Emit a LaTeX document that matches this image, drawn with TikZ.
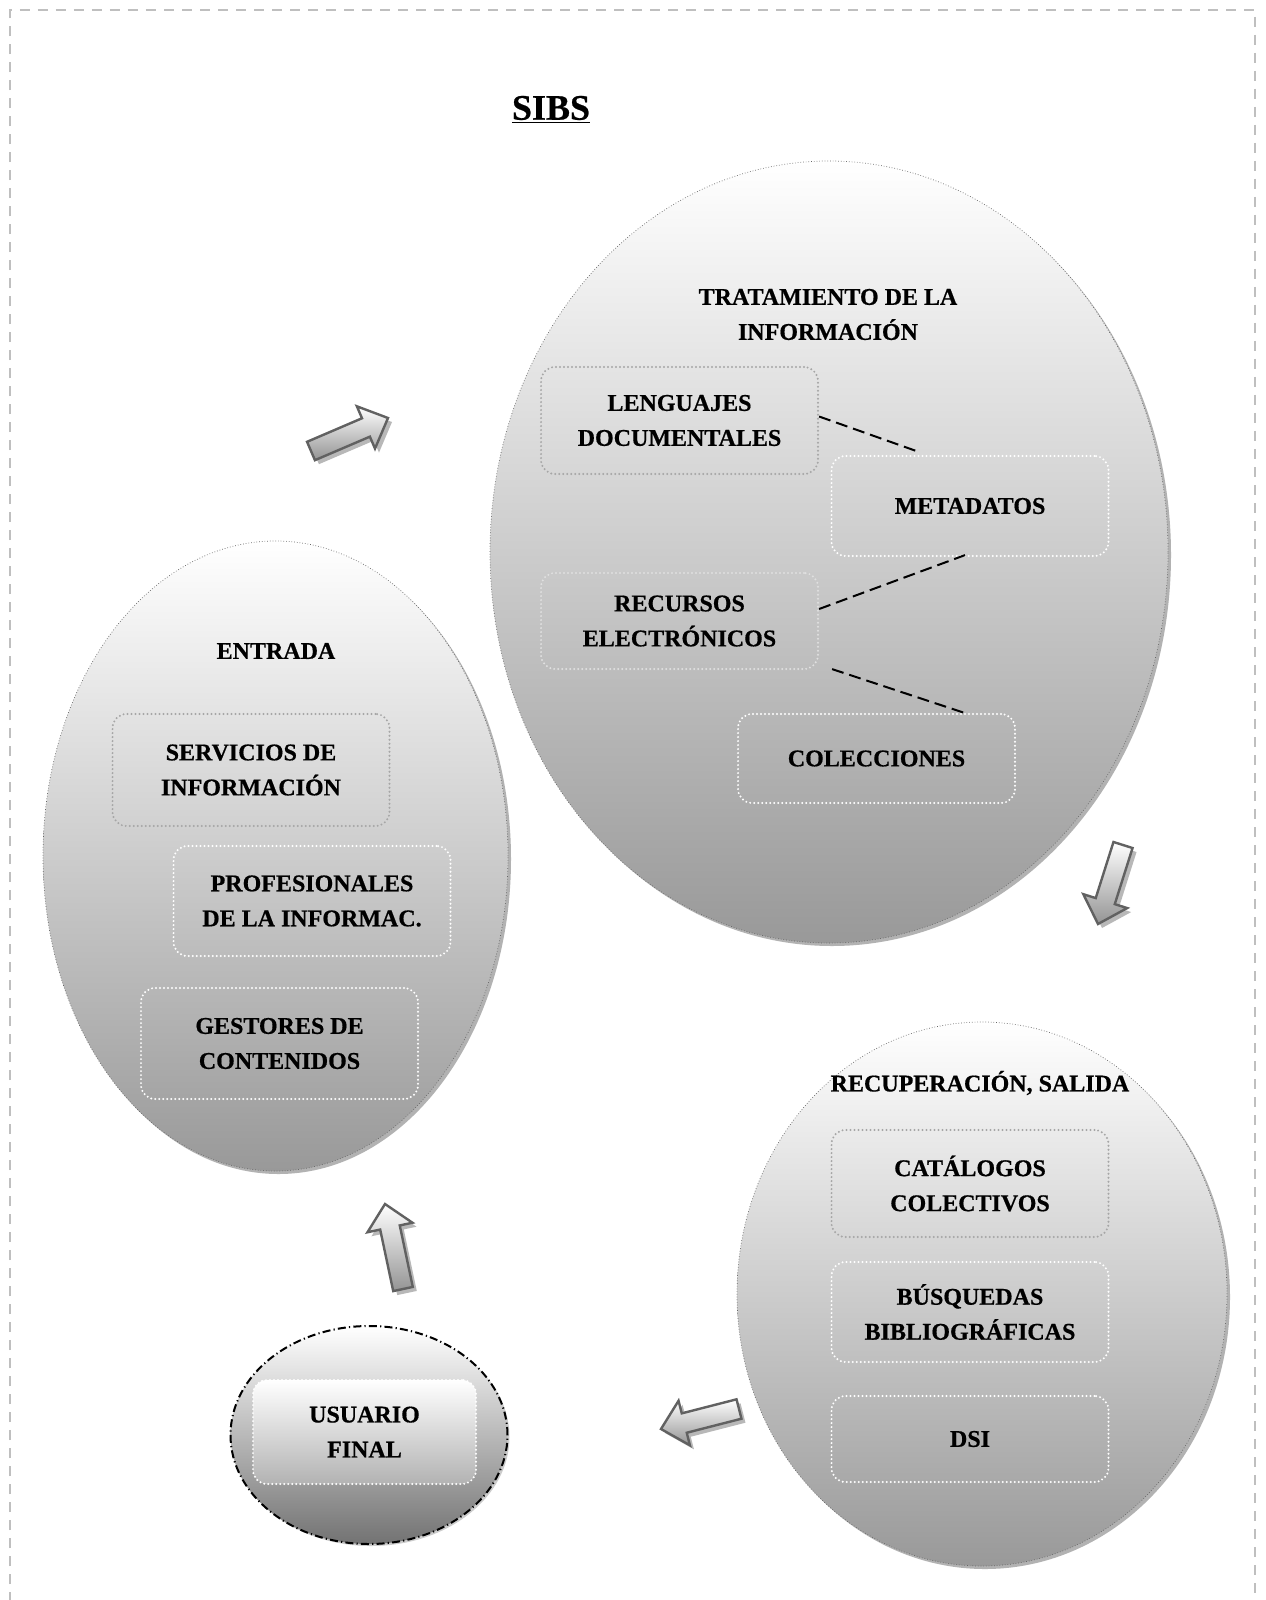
\documentclass[tikz,border=0pt]{standalone}
\usepackage{fontspec}
\setmainfont{Liberation Serif}[BoldFeatures={FakeBold=0.6}]
\usetikzlibrary{shapes.geometric,calc,shadows}
\newcommand{\arrowpoly}[2]{($(#1)!5pt!90:(#2)$) -- ($(#1c)!5pt!90:(#2)$) -- ($(#1c)!11.5pt!90:(#2)$) -- (#2) -- ($(#1c)!11.5pt!-90:(#2)$) -- ($(#1c)!5pt!-90:(#2)$) -- ($(#1)!5pt!-90:(#2)$) -- cycle}
\newcommand{\blkarrow}[2]{%
  \coordinate (#1c) at ($(#2)!12pt!(#1)$);
  \path[fill=black!28, transform canvas={shift={(2pt,-2pt)}}] \arrowpoly{#1}{#2};
  \path[draw=black!62, line width=1.2pt, line join=miter, top color=white, bottom color=black!42] \arrowpoly{#1}{#2};
}
\begin{document}
\begin{tikzpicture}[x=0.5pt,y=-0.5pt,
  lbl/.style={font=\bfseries\fontsize{12}{17.5}\selectfont, align=center, inner sep=0pt},
  bub/.style={ellipse, draw=black!60, densely dotted, line width=0.35pt, top color=white, bottom color=black!40, inner sep=0pt,
     drop shadow={shadow xshift=1.5pt, shadow yshift=-1.5pt, fill=black!30, opacity=1}},
  itembox/.style={rounded corners=7pt, draw=#1, line width=1.1pt, dash pattern=on 0pt off 2pt, line cap=round,
     minimum width=138.5pt, align=center, inner sep=0pt, font=\bfseries\fontsize{12}{17.5}\selectfont},
  conn/.style={black, line width=1pt, dash pattern=on 6pt off 3pt},
]
\useasboundingbox (0,0) rectangle (1265,1600);
\fill[white] (0,0) rectangle (1265,1600);
% outer border
\draw[black!25, line width=1pt, dash pattern=on 5pt off 4pt] (10,1620) -- (10,10) -- (1255,10) -- (1255,1620);
% title
\node[font=\bfseries\fontsize{18}{20}\selectfont, inner sep=0pt] (title) at (551,110) {\underline{SIBS}};
% bubbles
\node[bub, minimum width=339pt, minimum height=391pt] (trat) at (829,552) {};
\node[bub, minimum width=232.5pt, minimum height=315pt] (entr) at (275.5,856) {};
\node[bub, minimum width=245pt, minimum height=272pt] (recu) at (982,1294) {};
\node[ellipse, draw=black, line width=1pt, dash pattern=on 4pt off 1.6pt on 0.6pt off 1.6pt,
      top color=white, bottom color=black!55, minimum width=138.5pt, minimum height=109pt,
      drop shadow={shadow xshift=1pt, shadow yshift=-1pt, fill=black!20, opacity=1}] (usu) at (369,1435) {};
% bubble labels
\node[lbl] (tratl) at (828,314.5) {TRATAMIENTO DE LA\\INFORMACIÓN};
\node[lbl] (entl) at (276,651) {ENTRADA};
\node[lbl] (recl) at (980,1083) {RECUPERACIÓN, SALIDA};
% boxes
\node[itembox=black!35, minimum height=53.5pt] (leng) at (679.5,420.5) {LENGUAJES\\DOCUMENTALES};
\node[itembox=white, minimum height=50pt] (meta) at (970,506) {METADATOS};
\node[itembox=black!12, minimum height=48pt] (rec) at (679.5,621) {RECURSOS\\ELECTRÓNICOS};
\node[itembox=white, minimum height=44.5pt] (col) at (876.5,758.5) {COLECCIONES};
\node[itembox=black!35, minimum height=56pt] (serv) at (251,770) {SERVICIOS DE\\INFORMACIÓN};
\node[itembox=white, minimum height=55pt] (prof) at (312,901) {PROFESIONALES\\DE LA INFORMAC.};
\node[itembox=white, minimum height=55.5pt] (gest) at (279.5,1043.5) {GESTORES DE\\CONTENIDOS};
\node[itembox=black!35, minimum height=53.5pt] (cat) at (970,1183.5) {CATÁLOGOS\\COLECTIVOS};
\node[itembox=white, minimum height=50pt] (bus) at (970,1312) {BÚSQUEDAS\\BIBLIOGRÁFICAS};
\node[itembox=white, minimum height=43pt] (dsi) at (970,1439) {DSI};
\node[itembox=white, minimum width=111.5pt, minimum height=52pt, top color=white, bottom color=black!30] (usrb) at (364.5,1432) {USUARIO\\FINAL};
% dashed connectors
\draw[conn] ($(leng.east)+(0,-4)$) -- ($(meta.north)+(-54,-4)$);
\draw[conn] ($(rec.east)+(0,-12)$) -- ($(meta.south)+(-5,-2)$);
\draw[conn] ($(rec.south east)+(13,-1)$) -- ($(col.north)+(88,0)$);
% block arrows
\coordinate (a1t) at (311,451); \coordinate (a1h) at (388,418);
\coordinate (a2t) at (1123,845); \coordinate (a2h) at (1098,924);
\coordinate (a3t) at (403,1289); \coordinate (a3h) at (385,1204);
\coordinate (a4t) at (739,1409); \coordinate (a4h) at (661,1429);
\blkarrow{a1t}{a1h}
\blkarrow{a2t}{a2h}
\blkarrow{a3t}{a3h}
\blkarrow{a4t}{a4h}
\end{tikzpicture}
\end{document}
